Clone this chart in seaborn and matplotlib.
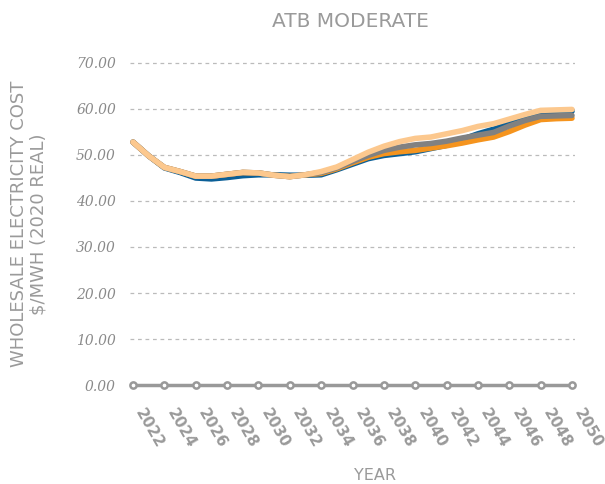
import numpy as np
import pandas as pd
import matplotlib
matplotlib.use("Agg")
import matplotlib.pyplot as plt
import matplotlib.transforms as mtransforms
import seaborn as sns

# annual wholesale cost, $/MWh (2020 real)
years = list(range(2022, 2051))
blue = [52.8, 49.8, 47.2, 46.2, 45.0, 44.8, 45.1, 45.5, 45.7, 45.7, 45.6, 45.6, 45.7, 46.8, 48.0,
        49.2, 49.9, 50.3, 50.7, 51.4, 52.1, 53.4, 54.6, 55.6, 56.8, 57.8, 58.7, 59.3, 59.5]
orange = [52.8, 49.8, 47.3, 46.4, 45.4, 45.4, 45.8, 46.2, 46.1, 45.6, 45.3, 45.7, 46.0, 47.0, 48.3,
          49.5, 50.3, 50.7, 51.0, 51.5, 52.0, 52.6, 53.3, 53.9, 55.1, 56.5, 57.7, 57.9, 58.0]
gray = [52.8, 49.8, 47.3, 46.4, 45.4, 45.4, 45.8, 46.2, 46.1, 45.6, 45.3, 45.7, 46.2, 47.2, 48.6,
        49.9, 51.0, 51.7, 52.2, 52.5, 53.0, 53.7, 54.3, 54.9, 56.3, 57.5, 58.4, 58.5, 58.6]
peach = [52.8, 49.8, 47.3, 46.4, 45.4, 45.4, 45.8, 46.2, 46.1, 45.6, 45.3, 45.7, 46.4, 47.4, 49.0,
         50.6, 51.9, 52.9, 53.6, 53.9, 54.6, 55.3, 56.2, 56.8, 57.8, 58.8, 59.7, 59.8, 59.9]
series_names = ["s1", "s2", "s3", "s4"]
tick_years = list(range(2022, 2051, 2))
y_ticks = [0, 10, 20, 30, 40, 50, 60, 70]

colors = {"s1": "#0b5f97", "s2": "#f5941e", "s3": "#818181", "s4": "#fcc88e"}

df = pd.concat([
    pd.DataFrame({"year": years, "cost": vals, "series": name})
    for name, vals in zip(series_names, [blue, orange, gray, peach])
])

sns.set_style("white")
fig = plt.figure(figsize=(6.05, 4.84), dpi=100)
ax = fig.add_axes([0.2147, 0.195, 0.7359, 0.6844])

txt = "#9a9a9a"
sns.lineplot(data=df, x="year", y="cost", hue="series", palette=colors,
             linewidth=4, legend=False, ax=ax, solid_capstyle="round")

# x axis baseline with hollow markers
ax.plot(tick_years, [0] * len(tick_years), color="#999999", lw=2.5,
        marker="o", ms=4.5, mfc="white", mec="#999999", mew=1.8, zorder=5, clip_on=False)

ax.set_xlim(2021.8, 2050.2)
ax.set_ylim(-1, 71)
ax.set_yticks(y_ticks)
ax.set_yticklabels([f"{v:.2f}" for v in y_ticks], fontfamily="DejaVu Serif",
                   fontstyle="italic", fontsize=10, color="#8a8a8a")
ax.set_xticks(tick_years)
ax.set_xticklabels([str(y) for y in tick_years], rotation=-60, ha="left", va="top",
                   rotation_mode="anchor", fontsize=11, fontweight="bold", color=txt)
ax.tick_params(axis="both", length=0, pad=10)
ax.tick_params(axis="x", pad=12)
shift = mtransforms.ScaledTranslation(9 / 72, 0, fig.dpi_scale_trans)
for lab in ax.get_xticklabels():
    lab.set_transform(lab.get_transform() + shift)

for v in y_ticks[1:]:
    ax.axhline(v, color="#bbbbbb", lw=0.9, ls=(0, (3, 3)), zorder=0)
for s in ax.spines.values():
    s.set_visible(False)

ax.set_xlabel("YEAR", color=txt, fontsize=11.5)
ax.xaxis.set_label_coords(0.55, -0.237)
ax.set_ylabel("WHOLESALE ELECTRICITY COST\n$/MWH (2020 REAL)", color=txt, fontsize=13,
              linespacing=1.15)
ax.yaxis.set_label_coords(-0.184, 0.5)
fig.text(0.58, 0.955, "ATB MODERATE", ha="center", va="center", color=txt, fontsize=14.5)

fig.savefig("out.png", dpi=100)
